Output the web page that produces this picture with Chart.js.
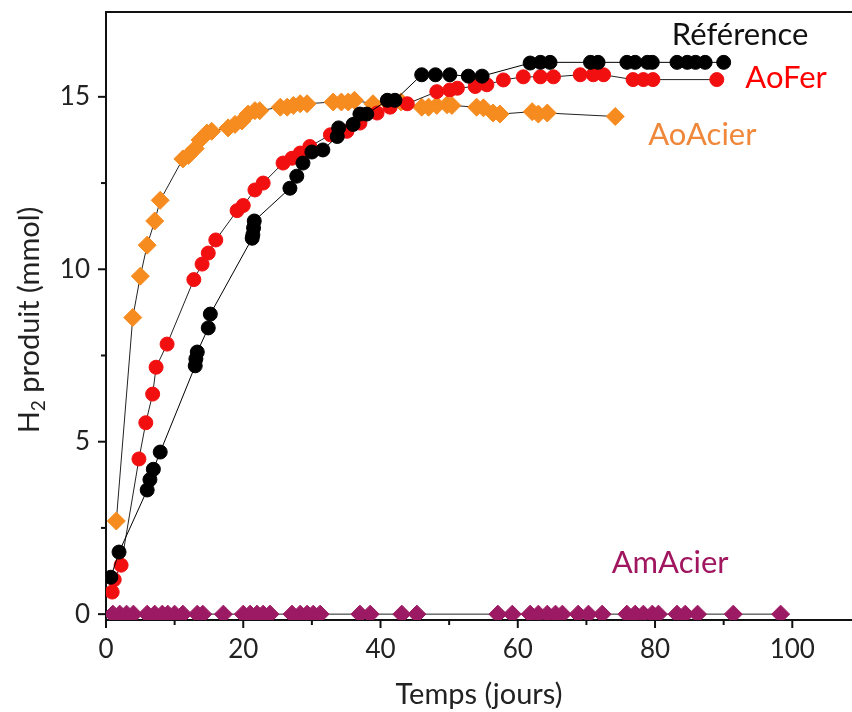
<!DOCTYPE html>
<html>
<head>
<meta charset="utf-8">
<script src="https://cdn.jsdelivr.net/npm/chart.js@4.4.0/dist/chart.umd.min.js"></script>
<style>
  html, body { margin: 0; padding: 0; background: #fff; }
  #wrap { width: 852px; height: 712px; }
</style>
</head>
<body>
<div id="wrap"><canvas id="chartcontainer" width="852" height="712"></canvas></div>
<script>
// Référence (black)
const refX = [0.7, 1.9, 6.0, 6.4, 6.9, 7.9, 13.0, 13.1, 13.3, 14.9, 15.2, 21.3, 21.4, 21.5, 21.6, 26.8, 27.8, 28.7, 30.0, 31.6, 33.7, 33.9, 36.0, 37.0, 38.0, 41.0, 42.1, 46.0, 48.0, 50.1, 52.8, 54.8, 61.8, 63.3, 64.7, 70.6, 71.7, 75.9, 77.1, 78.9, 79.6, 83.2, 84.7, 85.9, 87.3, 90.0];
const refY = [1.07, 1.8, 3.6, 3.9, 4.2, 4.7, 7.2, 7.4, 7.6, 8.3, 8.7, 10.9, 11.0, 11.2, 11.4, 12.35, 12.7, 13.08, 13.4, 13.46, 13.85, 14.1, 14.2, 14.5, 14.5, 14.9, 14.9, 15.64, 15.64, 15.64, 15.6, 15.6, 15.98, 16.0, 16.0, 16.0, 16.0, 16.0, 16.0, 16.0, 16.0, 16.0, 16.0, 16.0, 16.0, 16.0];

// AoFer (red)
const aoFerX = [0.9, 1.2, 2.2, 4.8, 5.8, 6.8, 7.3, 8.9, 12.8, 14.0, 14.9, 16.0, 19.1, 20.0, 21.7, 22.9, 25.8, 27.1, 28.3, 29.7, 32.7, 35.1, 37.0, 39.5, 41.4, 43.9, 48.2, 50.1, 51.2, 53.8, 55.5, 57.9, 60.8, 63.3, 65.2, 69.1, 71.0, 72.5, 76.8, 78.3, 79.7, 89.0];
const aoFerY = [0.64, 1.0, 1.42, 4.5, 5.55, 6.38, 7.16, 7.83, 9.7, 10.15, 10.47, 10.85, 11.7, 11.85, 12.3, 12.5, 13.08, 13.22, 13.37, 13.56, 13.9, 14.0, 14.24, 14.53, 14.7, 14.8, 15.15, 15.2, 15.25, 15.3, 15.35, 15.49, 15.58, 15.58, 15.58, 15.64, 15.64, 15.64, 15.5, 15.5, 15.5, 15.5];

// AoAcier (orange)
const aoAcierX = [1.5, 3.9, 5.0, 6.0, 7.1, 7.9, 11.2, 12.0, 13.0, 13.7, 14.7, 15.4, 17.8, 18.8, 19.8, 20.7, 21.7, 22.4, 25.4, 26.4, 27.3, 28.3, 29.3, 33.1, 34.3, 35.3, 36.2, 38.9, 41.0, 43.0, 46.0, 47.0, 48.2, 49.7, 50.4, 54.0, 55.0, 56.4, 57.4, 62.1, 63.0, 64.3, 74.2];
const aoAcierY = [2.7, 8.6, 9.8, 10.7, 11.4, 12.0, 13.2, 13.3, 13.5, 13.75, 13.95, 14.0, 14.1, 14.2, 14.3, 14.5, 14.6, 14.6, 14.7, 14.7, 14.75, 14.8, 14.8, 14.85, 14.85, 14.85, 14.9, 14.8, 14.85, 14.85, 14.7, 14.7, 14.75, 14.77, 14.75, 14.7, 14.68, 14.53, 14.5, 14.57, 14.5, 14.53, 14.43];

// AmAcier (purple)
const amAcierX = [1, 2, 3, 4, 6, 7.1, 8.2, 9, 10, 11.2, 13.3, 14.1, 17.1, 20, 21, 22, 22.9, 23.9, 27.1, 28.3, 29.3, 30.2, 31.2, 37, 38.5, 43.1, 45.3, 57.1, 59.2, 61.8, 63, 64.3, 65.5, 66.5, 68.8, 70.3, 72.3, 75.9, 77.1, 78.3, 79.6, 80.5, 83.2, 84.4, 86.2, 91.4, 98.3];
const amAcierY = amAcierX.map(() => 0);

// text labels placed in data units
const seriesLabels = [
  { text: "Référence", x: 92.4, y: 16.8, color: "#111111" },
  { text: "AoFer", x: 99.1, y: 15.55, color: "#ff0000" },
  { text: "AoAcier", x: 86.9, y: 13.9, color: "#f0883c" },
  { text: "AmAcier", x: 82.2, y: 1.48, color: "#a0165f" }
];

const FONT = "Lato, 'Open Sans', sans-serif";

function pts(xs, ys) {
  return xs.map((x, i) => ({ x: x, y: ys[i] }));
}

const decorPlugin = {
  id: "decor",
  afterDraw(chart) {
    const ctx = chart.ctx;
    const a = chart.chartArea;
    const xs = chart.scales.x, ys = chart.scales.y;
    ctx.save();
    ctx.strokeStyle = "#111";
    ctx.lineWidth = 2;
    // top frame line
    ctx.beginPath();
    ctx.moveTo(a.left, a.top);
    ctx.lineTo(a.right, a.top);
    ctx.stroke();
    // x ticks (major + minor halfway)
    const xt = xs.ticks.map(t => t.value);
    const xStep = xt[1] - xt[0];
    xt.forEach(v => {
      const p = xs.getPixelForValue(v);
      ctx.beginPath(); ctx.moveTo(p, a.bottom); ctx.lineTo(p, a.bottom + 8); ctx.stroke();
      const m = v + xStep / 2;
      if (m < xs.max) {
        const q = xs.getPixelForValue(m);
        ctx.beginPath(); ctx.moveTo(q, a.bottom); ctx.lineTo(q, a.bottom + 5); ctx.stroke();
      }
    });
    const yt = ys.ticks.map(t => t.value);
    const yStep = yt[1] - yt[0];
    yt.forEach(v => {
      const p = ys.getPixelForValue(v);
      ctx.beginPath(); ctx.moveTo(a.left, p); ctx.lineTo(a.left - 8, p); ctx.stroke();
      const m = v + yStep / 2;
      if (m < ys.max) {
        const q = ys.getPixelForValue(m);
        ctx.beginPath(); ctx.moveTo(a.left, q); ctx.lineTo(a.left - 5, q); ctx.stroke();
      }
    });
    // series labels
    ctx.textAlign = "center";
    ctx.textBaseline = "middle";
    ctx.font = "31px " + FONT;
    seriesLabels.forEach(l => {
      ctx.fillStyle = l.color;
      ctx.fillText(l.text, xs.getPixelForValue(l.x), ys.getPixelForValue(l.y));
    });
    // y title with subscript
    ctx.translate(30, 320);
    ctx.rotate(-Math.PI / 2);
    ctx.fillStyle = "#222";
    ctx.textAlign = "left";
    ctx.textBaseline = "middle";
    const big = "29px " + FONT, small = "19px " + FONT;
    ctx.font = big;
    const wH = ctx.measureText("H").width;
    const wRest = ctx.measureText(" produit (mmol)").width;
    ctx.font = small;
    const w2 = ctx.measureText("2").width;
    let x0 = -(wH + w2 + wRest) / 2;
    ctx.font = big;
    ctx.fillText("H", x0, 0);
    ctx.font = small;
    ctx.fillText("2", x0 + wH, 9);
    ctx.font = big;
    ctx.fillText(" produit (mmol)", x0 + wH + w2, 0);
    ctx.restore();
  }
};

const options = {
  type: "scatter",
  data: {
    datasets: [
      {
        label: "Référence",
        data: pts(refX, refY),
        backgroundColor: "#000000",
        borderColor: "#000000",
        pointBorderColor: "#000000",
        pointRadius: 7,
        pointStyle: "circle",
        showLine: true,
        borderWidth: 1,
        order: 0
      },
      {
        label: "AoFer",
        data: pts(aoFerX, aoFerY),
        backgroundColor: "#f20f0f",
        pointBorderColor: "#f20f0f",
        borderColor: "#222222",
        pointRadius: 7,
        pointStyle: "circle",
        showLine: true,
        borderWidth: 1,
        order: 1
      },
      {
        label: "AoAcier",
        data: pts(aoAcierX, aoAcierY),
        backgroundColor: "#f68b1f",
        pointBorderColor: "#f68b1f",
        borderColor: "#222222",
        pointRadius: 9,
        pointStyle: "rectRot",
        showLine: true,
        borderWidth: 1,
        order: 2
      },
      {
        label: "AmAcier",
        data: pts(amAcierX, amAcierY),
        backgroundColor: "#9c1a63",
        pointBorderColor: "#9c1a63",
        borderColor: "#222222",
        pointRadius: 9,
        pointStyle: "rectRot",
        showLine: true,
        borderWidth: 1,
        order: 3
      }
    ]
  },
  options: {
    responsive: false,
    animation: false,
    layout: { autoPadding: false, padding: { left: 0, right: 0, top: 12, bottom: 0 } },
    plugins: {
      legend: { display: false },
      tooltip: { enabled: false }
    },
    elements: { point: { borderWidth: 1 } },
    scales: {
      x: {
        type: "linear",
        min: 0,
        max: 108.7,
        afterFit: s => { s.height = 92; s.paddingLeft = 0; s.paddingRight = 0; },
        grid: { display: false, drawTicks: false },
        border: { display: true, color: "#111", width: 2 },
        ticks: {
          stepSize: 20,
          includeBounds: false,
          padding: 14,
          color: "#222",
          font: { family: FONT, size: 26 }
        },
        title: {
          display: true,
          text: "Temps (jours)",
          color: "#222",
          font: { family: FONT, size: 29 },
          padding: { top: 0, bottom: 0 }
        }
      },
      y: {
        type: "linear",
        min: -0.17,
        max: 17.46,
        afterFit: s => { s.width = 106; s.paddingTop = 0; s.paddingBottom = 0; },
        grid: { display: false, drawTicks: false },
        border: { display: true, color: "#111", width: 2 },
        ticks: {
          stepSize: 5,
          includeBounds: false,
          padding: 16,
          color: "#222",
          font: { family: FONT, size: 26 }
        }
      }
    }
  },
  plugins: [decorPlugin]
};

const ctx = document.getElementById("chartcontainer").getContext("2d");
const chart = new Chart(ctx, options);
</script>
</body>
</html>
